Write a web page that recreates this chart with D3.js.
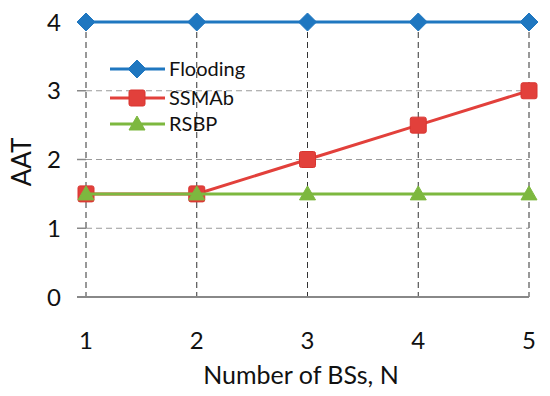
<!DOCTYPE html>
<html><head><meta charset="utf-8">
<script src="https://cdn.jsdelivr.net/npm/d3@7"></script>
<style>body{margin:0;background:#fff}svg{display:block}text{font-family:Lato,"Open Sans",sans-serif;fill:#111}</style>
</head><body>
<svg id="c" width="550" height="396"></svg>
<script>
const categories = [1, 2, 3, 4, 5];
const flooding = [4, 4, 4, 4, 4];
const ssmab = [1.5, 1.5, 2, 2.5, 3];
const rsbp = [1.5, 1.5, 1.5, 1.5, 1.5];
const yTicks = [0, 1, 2, 3, 4];
const seriesNames = ["Flooding", "SSMAb", "RSBP"];
const colors = ["#1f77c0", "#e2403b", "#7db83f"];

const svg = d3.select("#c");
const x = d3.scaleLinear().domain([1, 5]).range([86, 529]);
const y = d3.scaleLinear().domain([0, 4]).range([297, 22]);

svg.append("g").selectAll("line").data(yTicks.filter(d => d > 0)).join("line")
  .attr("x1", x(1)).attr("x2", x(5)).attr("y1", d => y(d)).attr("y2", d => y(d))
  .attr("stroke", "#9a9a9a").attr("stroke-width", 1).attr("stroke-dasharray", "6,4");
svg.append("g").selectAll("line").data(categories).join("line")
  .attr("x1", d => x(d)).attr("x2", d => x(d)).attr("y1", y(4)).attr("y2", y(0))
  .attr("stroke", "#333").attr("stroke-width", 1).attr("stroke-dasharray", "6,4");
svg.append("g").selectAll("line").data(yTicks).join("line")
  .attr("x1", x(1) - 9).attr("x2", x(1)).attr("y1", d => y(d)).attr("y2", d => y(d))
  .attr("stroke", "#888").attr("stroke-width", 1.5);
svg.append("line").attr("x1", x(1) - 9).attr("x2", x(5)).attr("y1", y(0)).attr("y2", y(0))
  .attr("stroke", "#888").attr("stroke-width", 2);

svg.append("g").selectAll("text").data(yTicks).join("text")
  .attr("x", 61).attr("y", d => y(d)).attr("dy", "0.36em").attr("text-anchor", "end")
  .attr("font-size", 24).text(d => d);
svg.append("g").selectAll("text").data(categories).join("text")
  .attr("x", d => x(d)).attr("y", 340).attr("dy", "0.36em").attr("text-anchor", "middle")
  .attr("font-size", 24).text(d => d);

svg.append("text").attr("x", 301).attr("y", 375).attr("dy", "0.36em").attr("text-anchor", "middle")
  .attr("font-size", 25).text("Number of BSs, N");
svg.append("text").attr("transform", `translate(22,${162}) rotate(-90)`).attr("dy", "0.36em")
  .attr("text-anchor", "middle").attr("font-size", 26).text("AAT");

const line = d3.line().x((d, i) => x(categories[i])).y(d => y(d));
const data = [flooding, ssmab, rsbp];

function marker(g, k, cx, cy) {
  if (k === 0) {
    g.append("path").attr("d", `M${cx},${cy-9}L${cx+9},${cy}L${cx},${cy+9}L${cx-9},${cy}Z`)
      .attr("fill", colors[k]).attr("stroke", colors[k]).attr("stroke-width", 1);
  } else if (k === 1) {
    g.append("rect").attr("x", cx - 8).attr("y", cy - 8).attr("width", 16).attr("height", 16).attr("rx", 2)
      .attr("fill", colors[k]).attr("stroke", "#d83530").attr("stroke-width", 1);
  } else {
    g.append("path").attr("d", `M${cx},${cy-8}L${cx+8},${cy+6}L${cx-8},${cy+6}Z`)
      .attr("fill", colors[k]).attr("stroke", colors[k]).attr("stroke-width", 1);
  }
}

[1, 2, 0].forEach(k => {
  const g = svg.append("g");
  g.append("path").datum(data[k]).attr("d", line).attr("fill", "none")
    .attr("stroke", colors[k]).attr("stroke-width", 3);
  data[k].forEach((v, i) => marker(g, k, x(categories[i]), y(v)));
});

const legY = [69, 98, 124];
seriesNames.forEach((name, k) => {
  const g = svg.append("g");
  g.append("line").attr("x1", 110).attr("x2", 165).attr("y1", legY[k]).attr("y2", legY[k])
    .attr("stroke", colors[k]).attr("stroke-width", 3);
  marker(g, k, 137, legY[k]);
  g.append("text").attr("x", 169).attr("y", legY[k]).attr("dy", "0.36em").attr("font-size", 20).text(name);
});
</script>
</body></html>
